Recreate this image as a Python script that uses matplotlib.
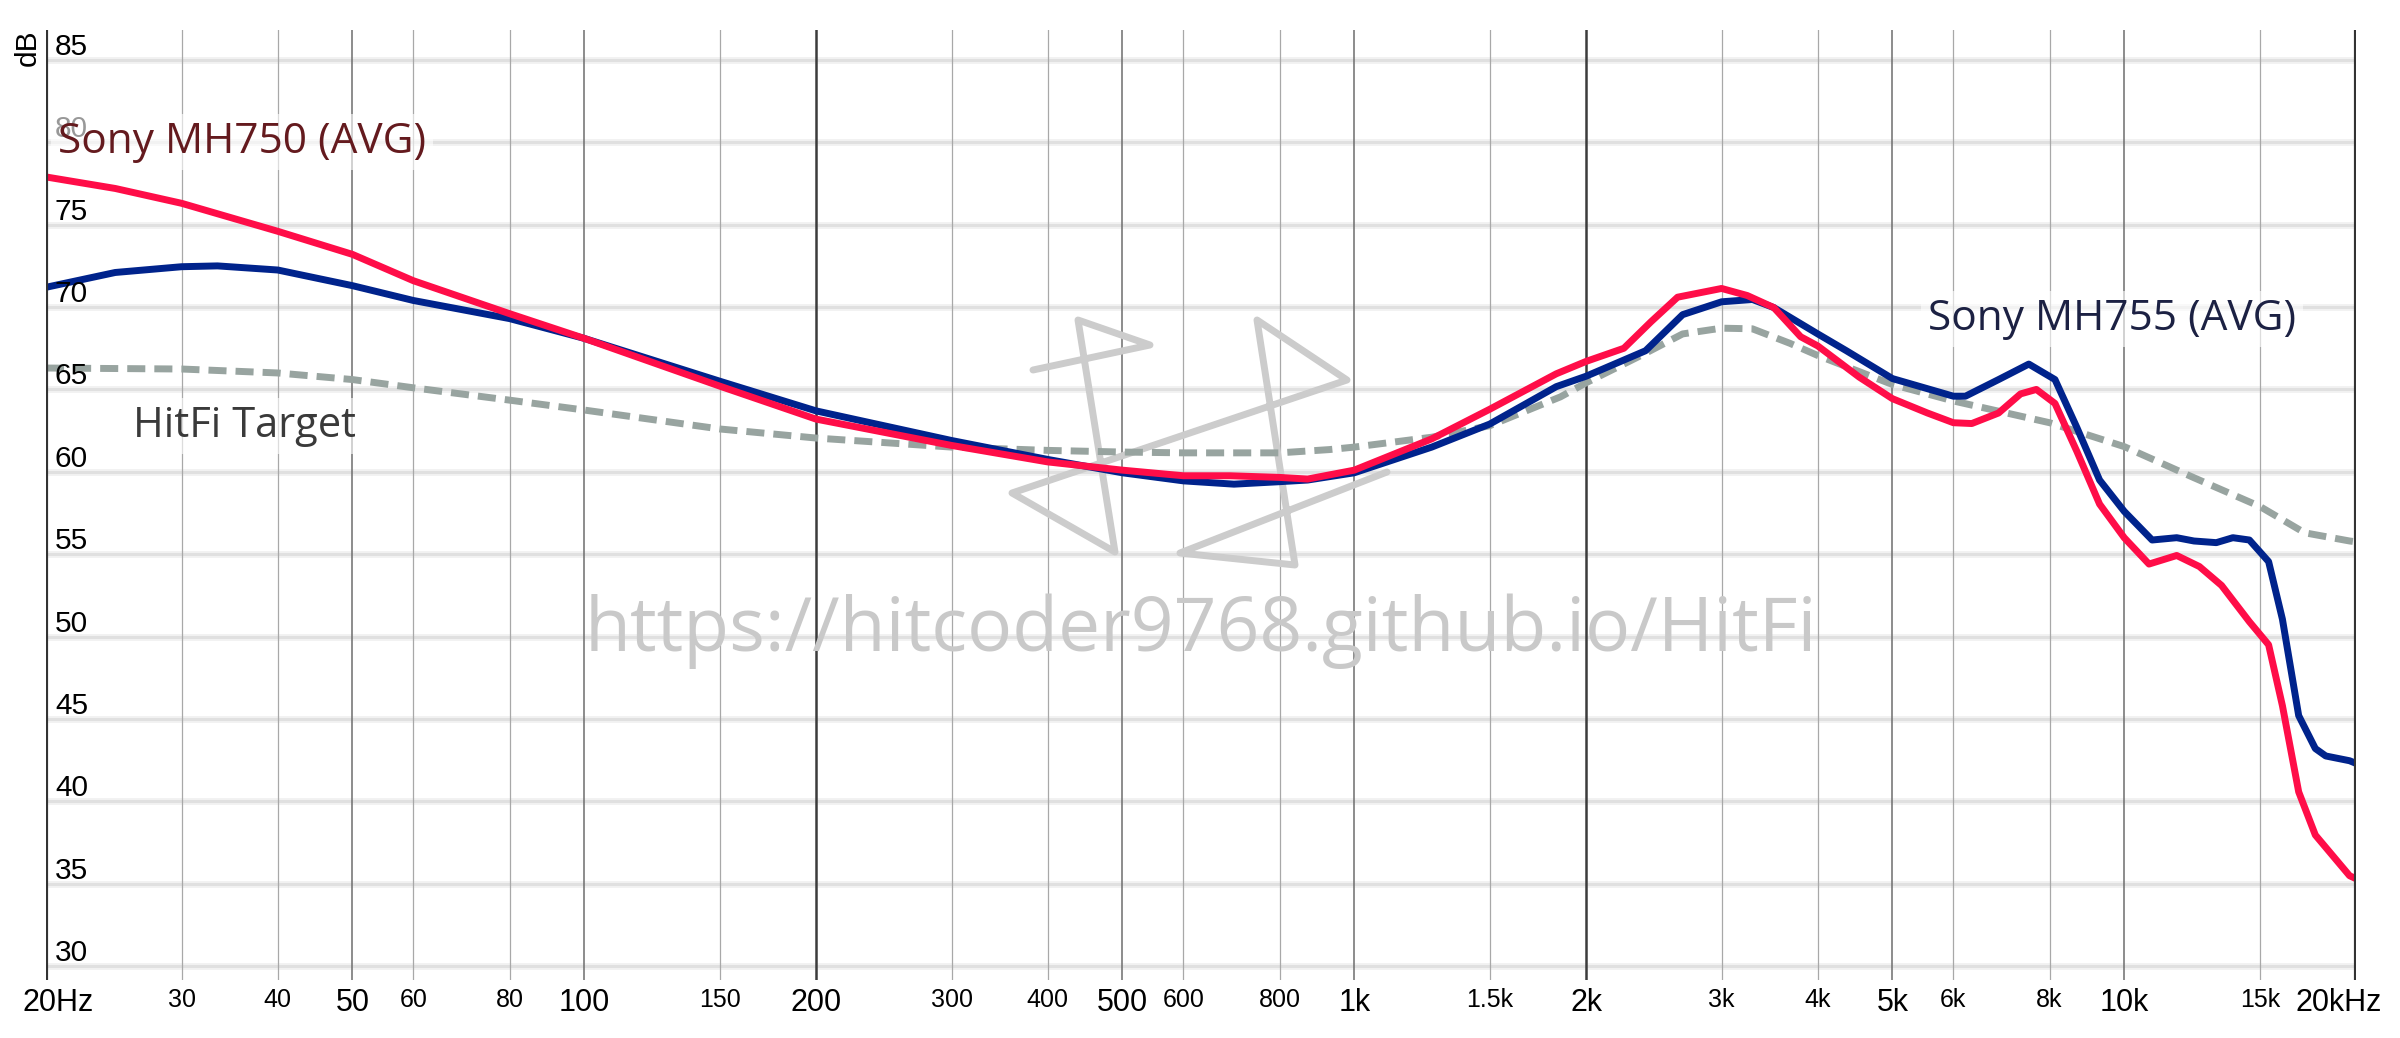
import numpy as np
import matplotlib.pyplot as plt
from matplotlib import transforms as mtransforms
from matplotlib.lines import Line2D

# ── Data ──────────────────────────────────────────────────────────────────────
freq_750 = [20, 24.6, 30, 40, 50, 60, 80, 100, 150, 200, 300, 400, 500, 600, 690,
            800, 870, 1000, 1261, 1500, 1830, 2000, 2240, 2428, 2630, 3000, 3240,
            3507, 3800, 4000, 4527, 5000, 5552, 6000, 6339, 6868, 7335, 7690, 8130,
            8680, 9290, 10000, 10770, 11700, 12520, 13380, 14540, 15400, 16050,
            16850, 17710, 19620, 20000]
db_750 = [77.9, 77.2, 76.3, 74.6, 73.2, 71.6, 69.6, 68.1, 65.2, 63.2, 61.6, 60.6,
          60.1, 59.76, 59.76, 59.66, 59.56, 60.1, 62.0, 63.8, 65.95, 66.7, 67.5,
          69.1, 70.6, 71.13, 70.7, 69.97, 68.2, 67.64, 65.75, 64.44, 63.57, 62.98,
          62.93, 63.57, 64.73, 65.0, 64.15, 61.24, 58.04, 56.0, 54.4, 54.92, 54.25,
          53.1, 50.9, 49.5, 45.8, 40.57, 37.95, 35.48, 35.3]

freq_755 = [20, 24.6, 30, 33.4, 40, 50, 60, 80, 100, 150, 200, 300, 400, 500, 600,
            698, 800, 870, 1000, 1261, 1500, 1830, 2000, 2390, 2670, 3000, 3290,
            3507, 4000, 4357, 5000, 6000, 6220, 6868, 7518, 8130, 8680, 9290, 10000,
            10870, 11700, 12320, 13170, 13840, 14540, 15400, 16050, 16850, 17710,
            18270, 19620, 20000]
db_755 = [71.2, 72.1, 72.45, 72.5, 72.25, 71.3, 70.4, 69.3, 68.1, 65.5, 63.7, 61.9,
          60.75, 59.94, 59.45, 59.25, 59.4, 59.5, 59.94, 61.5, 62.9, 65.17, 65.8,
          67.35, 69.54, 70.32, 70.46, 69.97, 68.37, 67.35, 65.66, 64.59, 64.59, 65.6,
          66.54, 65.6, 62.69, 59.5, 57.6, 55.86, 56.0, 55.8, 55.7, 56.0, 55.86, 54.55,
          51.05, 45.2, 43.2, 42.75, 42.46, 42.3]

freq_target = [20, 30, 40, 50, 60, 80, 100, 150, 200, 300, 400, 500, 600, 800, 929,
               1000, 1261, 1500, 1853, 2000, 2390, 2670, 3000, 3290, 3680, 4000, 5000,
               6000, 8000, 10000, 12320, 15000, 17150, 19620, 20000]
db_target = [66.3, 66.24, 66.0, 65.6, 65.1, 64.35, 63.75, 62.6, 62.05, 61.5, 61.3,
             61.2, 61.15, 61.15, 61.35, 61.5, 62.1, 62.8, 64.55, 65.4, 67.2, 68.37,
             68.72, 68.68, 67.8, 67.06, 65.3, 64.3, 62.98, 61.53, 59.64, 57.9, 56.3,
             55.8, 55.75]

x_ticks = [20, 30, 40, 50, 60, 80, 100, 150, 200, 300, 400, 500, 600, 800, 1000,
           1500, 2000, 3000, 4000, 5000, 6000, 8000, 10000, 15000, 20000]
x_labels = ['20Hz', '30', '40', '50', '60', '80', '100', '150', '200', '300', '400',
            '500', '600', '800', '1k', '1.5k', '2k', '3k', '4k', '5k', '6k', '8k',
            '10k', '15k', '20kHz']
x_major = [20, 50, 100, 200, 500, 1000, 2000, 5000, 10000, 20000]
y_ticks = [30, 35, 40, 45, 50, 55, 60, 65, 70, 75, 80, 85]

# ── Figure ────────────────────────────────────────────────────────────────────
W, H = 2400, 1038
TICK_FONT = ['Liberation Sans', 'DejaVu Sans']
LABEL_FONT = ['Open Sans', 'DejaVu Sans']

fig = plt.figure(figsize=(24, 10.38), dpi=100)
ax = fig.add_axes([46 / W, 1 - 980 / H, 2310 / W, 950 / H])
ax.set_xscale('log')
ax.set_xlim(20, 20000)
ax.set_ylim(29.15, 86.82)
ax.set_axis_off()

# horizontal grid (soft grey bands)
for v in y_ticks:
    ax.axhline(v, color='#f2f2f2', lw=5.0, zorder=0.4)
    ax.axhline(v, color='#e0e0e0', lw=2.2, zorder=0.5)

# vertical grid
for f in x_ticks[1:-1]:
    if f in (200, 2000):
        ax.axvline(f, color='#3c3c3c', lw=1.8, zorder=0.6)
    elif f in x_major:
        ax.axvline(f, color='#6e6e6e', lw=1.1, zorder=0.6)
    else:
        ax.axvline(f, color='#a8a8a8', lw=0.9, zorder=0.6)
ax.axvline(20, color='#333333', lw=3.0, zorder=6)
ax.axvline(20000, color='#333333', lw=3.0, zorder=6)

# y tick labels (inside the plot, just above each grid line)
ytrans = mtransforms.blended_transform_factory(fig.transFigure, ax.transData) + \
    mtransforms.ScaledTranslation(0, 5 / 100, fig.dpi_scale_trans)
for v in y_ticks:
    ax.text(55 / W, v, str(v), transform=ytrans, ha='left', va='baseline',
            fontsize=21.5, family=TICK_FONT, color='black', zorder=5)

fig.text(28 / W, 1 - 48 / H, 'dB', rotation=90, ha='center', va='center',
         fontsize=21.5, family=TICK_FONT, color='black')

# x tick labels
xtrans = mtransforms.blended_transform_factory(ax.transData, fig.transFigure)
for i, (f, lab) in enumerate(zip(x_ticks, x_labels)):
    big = f in x_major
    size = 22 if big else 18
    base = 1 - (1011 if big else 1007) / H
    ha = 'center'
    tr = xtrans
    if i == 0:
        ha = 'left'
        tr = xtrans + mtransforms.ScaledTranslation(-24 / 100, 0, fig.dpi_scale_trans)
    elif i == len(x_ticks) - 1:
        ha = 'right'
        tr = xtrans + mtransforms.ScaledTranslation(26 / 100, 0, fig.dpi_scale_trans)
    ax.text(f, base, lab, transform=tr, ha=ha, va='baseline', fontsize=size,
            family=TICK_FONT, color='black', clip_on=False)

# watermark
ax.text(1201 / W, 1 - 651 / H, 'https://hitcoder9768.github.io/HitFi',
        transform=fig.transFigure, ha='center', va='baseline', fontsize=54,
        family=LABEL_FONT, color='#c9c9c9', zorder=1)
logo_px = [(1033, 370), (1150, 345), (1078, 320), (1115, 552), (1012, 493),
           (1347, 380), (1257, 320), (1295, 565), (1180, 553), (1387, 472)]
ax.add_artist(Line2D([p[0] / W for p in logo_px], [1 - p[1] / H for p in logo_px],
                     transform=fig.transFigure, color='#cccccc', lw=5,
                     solid_joinstyle='round', solid_capstyle='round', zorder=1))

# curves
ax.plot(freq_target, db_target, color='#98a4a0', lw=5, dashes=(2.6, 1.3),
        dash_capstyle='butt', zorder=2)
ax.plot(freq_755, db_755, color='#00238c', lw=5, solid_joinstyle='round',
        solid_capstyle='round', zorder=3)
ax.plot(freq_750, db_750, color='#ff0d48', lw=5, solid_joinstyle='round',
        solid_capstyle='round', zorder=4)

# curve labels
box = dict(facecolor='white', alpha=0.6, edgecolor='none', pad=5)
ax.text(58 / W, 1 - 153 / H, 'Sony MH750 (AVG)', transform=fig.transFigure,
        ha='left', va='baseline', fontsize=30.5, family=LABEL_FONT, color='#641a1e',
        bbox=box, zorder=10)
ax.text(133 / W, 1 - 437 / H, 'HitFi Target', transform=fig.transFigure,
        ha='left', va='baseline', fontsize=30, family=LABEL_FONT, color='#3a3a3a',
        bbox=box, zorder=10)
ax.text(1928 / W, 1 - 330 / H, 'Sony MH755 (AVG)', transform=fig.transFigure,
        ha='left', va='baseline', fontsize=30.5, family=LABEL_FONT, color='#1c2143',
        bbox=box, zorder=10)

fig.savefig('out.png', dpi=100, facecolor='white')
